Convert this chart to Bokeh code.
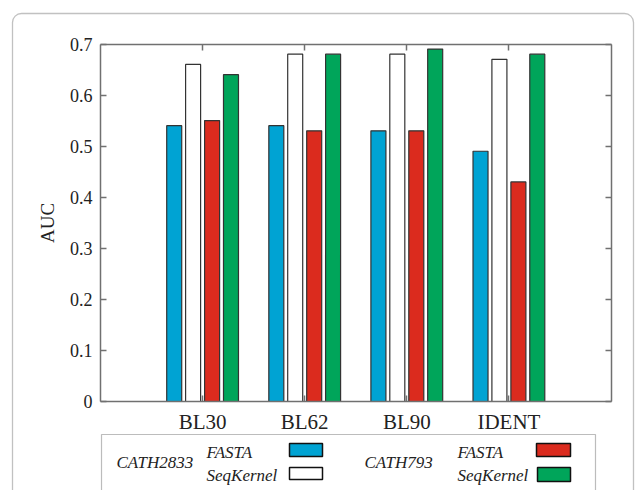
from bokeh.plotting import figure
from bokeh.models import (FixedTicker, LinearAxis, Range1d, BoxAnnotation,
                          CustomJSTickFormatter)
from bokeh.core.properties import value
from bokeh.embed import file_html
from bokeh.resources import INLINE

# ---- data ----
categories = ["BL30", "BL62", "BL90", "IDENT"]
cath2833_fasta = [0.54, 0.54, 0.53, 0.49]
cath2833_seqkernel = [0.66, 0.68, 0.68, 0.67]
cath793_fasta = [0.55, 0.53, 0.53, 0.43]
cath793_seqkernel = [0.64, 0.68, 0.69, 0.68]
y_ticks = [0, 0.1, 0.2, 0.3, 0.4, 0.5, 0.6, 0.7]
dataset_names = ["CATH2833", "CATH793"]
method_names = ["FASTA", "SeqKernel"]

series = [cath2833_fasta, cath2833_seqkernel, cath793_fasta, cath793_seqkernel]
colors = ["#00a3d3", "#ffffff", "#db2b1e", "#00a55a"]
offsets = [-0.278, -0.093, 0.093, 0.278]
bar_w = 0.147

SERIF = "Liberation Serif"
AX = "#707070"
W, H = 635, 490

# layout geometry (pixels) of the plotting box inside the canvas
X0_PX, X1_PX = 100.0, 610.5     # x = 0 .. 5
Y0_PX, Y1_PX = 401.0, 43.5      # y = 0 .. 0.7
XMAX = len(categories) + 1
YMAX = y_ticks[-1]
sx = (X1_PX - X0_PX) / XMAX
sy = (Y0_PX - Y1_PX) / YMAX
x_range = Range1d(-X0_PX / sx, XMAX + (W - X1_PX) / sx)
y_range = Range1d(-(H - Y0_PX) / sy, YMAX + Y1_PX / sy)

def dx(px):
    return (px - X0_PX) / sx

def dy(py):
    return (Y0_PX - py) / sy

p = figure(width=W, height=H, output_backend="svg", toolbar_location=None,
           x_range=x_range, y_range=y_range,
           x_axis_location=None, y_axis_location=None,
           min_border=0, min_border_left=0, min_border_right=0,
           min_border_top=0, min_border_bottom=0)
p.grid.visible = False
p.outline_line_color = None
p.background_fill_color = "white"
p.border_fill_color = "white"

xpos = list(range(1, len(categories) + 1))
for vals, col, off in zip(series, colors, offsets):
    p.vbar(x=[x + off for x in xpos], top=vals, width=bar_w, bottom=0,
           fill_color=col, line_color="#333333", line_width=1.2)

blank = CustomJSTickFormatter(code="return ''")

def style(ax):
    ax.major_tick_in = 6
    ax.major_tick_out = 0
    ax.minor_tick_line_color = None
    ax.axis_line_color = AX
    ax.axis_line_width = 1.5
    ax.major_tick_line_color = AX
    ax.major_tick_line_width = 1.5
    ax.major_label_text_font = SERIF
    ax.major_label_text_color = "#222222"
    ax.major_label_standoff = 8

bottom = LinearAxis(ticker=FixedTicker(ticks=xpos), fixed_location=0,
                    bounds=(0, XMAX))
bottom.major_label_overrides = {x: c for x, c in zip(xpos, categories)}
style(bottom)
bottom.major_label_text_font_size = "21px"

left = LinearAxis(ticker=FixedTicker(ticks=y_ticks), fixed_location=0,
                  bounds=(0, YMAX), axis_label="AUC")
left.major_label_overrides = {0: "0"}
style(left)
left.major_label_text_font_size = "18px"
left.axis_label_text_font = SERIF
left.axis_label_text_font_style = "normal"
left.axis_label_text_font_size = "19px"
left.axis_label_text_color = "#222222"
left.axis_label_standoff = 9

top = LinearAxis(ticker=FixedTicker(ticks=xpos), formatter=blank,
                 fixed_location=YMAX, bounds=(0, XMAX))
style(top)
right = LinearAxis(ticker=FixedTicker(ticks=y_ticks), formatter=blank,
                   fixed_location=XMAX, bounds=(0, YMAX))
style(right)

p.add_layout(bottom, "below")
p.add_layout(left, "left")
p.add_layout(top, "above")
p.add_layout(right, "right")

# outer rounded box
p.add_layout(BoxAnnotation(left=dx(12), right=dx(633), top=dy(13), bottom=dy(520),
                           fill_alpha=0, line_color="#333333", line_width=1.3,
                           border_radius=9, level="overlay"))
# legend box
p.add_layout(BoxAnnotation(left=dx(101), right=dx(595), top=dy(434), bottom=dy(520),
                           fill_alpha=0, line_color="#222222", line_width=1.2,
                           level="overlay"))

def labels(xs_px, ys_px, texts):
    p.text(x=[dx(v) for v in xs_px], y=[dy(v) for v in ys_px], text=texts,
           text_font=value(SERIF), text_font_style="italic",
           text_font_size="17px", text_color="#222222",
           text_baseline="middle", text_align="left")

def swatch(l, r, t, b, col):
    p.quad(left=dx(l), right=dx(r), top=dy(t), bottom=dy(b),
           fill_color=col, line_color="#111111", line_width=1.5)

# group 1
labels([116], [462], [dataset_names[0]])
labels([206, 206], [452, 475], method_names)
swatch(289, 322, 443, 456, colors[0])
swatch(289, 322, 467, 479, colors[1])
# group 2
labels([364], [462], [dataset_names[1]])
labels([457, 457], [452, 475], method_names)
swatch(536, 570, 443, 456, colors[2])
swatch(537, 570, 467, 481, colors[3])

open("out.html", "w").write(file_html(p, INLINE))
